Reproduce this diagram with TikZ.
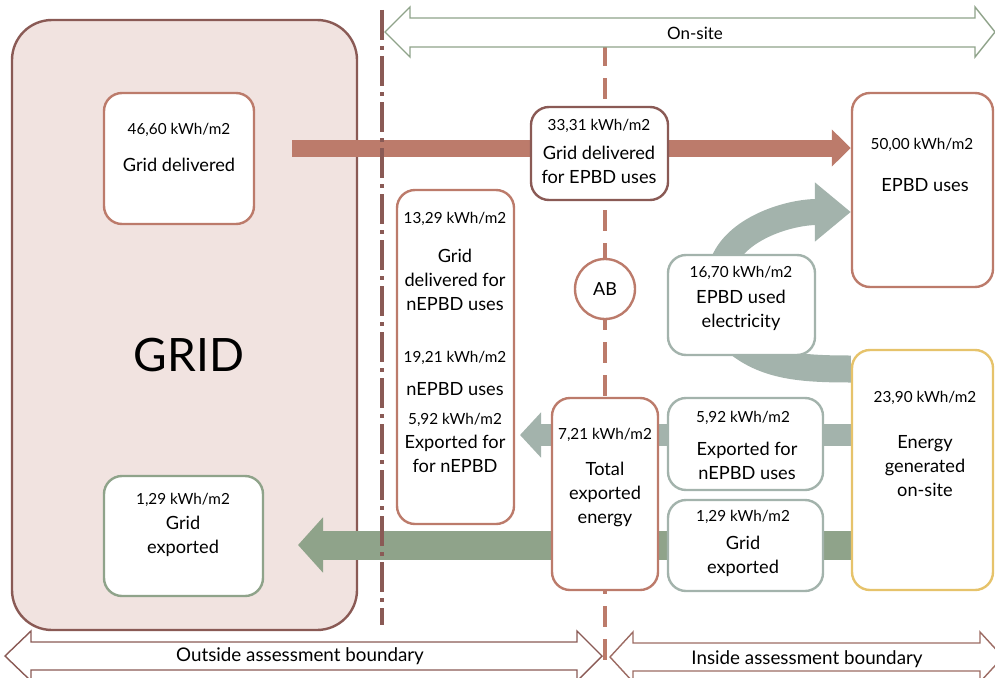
\documentclass[tikz,border=0pt]{standalone}
\usepackage{fontspec}
\setmainfont{Lato}
\usetikzlibrary{arrows.meta,backgrounds}
\definecolor{gridbrown}{HTML}{8A5A55}
\definecolor{salmon}{HTML}{BC7B6B}
\definecolor{gridfill}{HTML}{F1E3E0}
\definecolor{sage}{HTML}{A3B3AC}
\definecolor{moss}{HTML}{8FA38A}
\definecolor{ochre}{HTML}{E6C36B}
\definecolor{bndbrown}{HTML}{9C6B63}

\begin{document}
\begin{tikzpicture}[x=1pt,y=-1pt,
  box/.style n args={3}{rectangle,draw=#1,fill=white,line width=2.4pt,rounded corners=18pt,minimum width=#2,minimum height=#3},
  val/.style={font=\fontsize{15.3}{18}\selectfont,inner sep=0pt},
  lbl/.style={font=\fontsize{18.2}{24}\selectfont,align=center,inner sep=0pt},
  bnd/.style={fill=white,line width=1.4pt,line join=miter},
  redflow/.style={draw=salmon,line width=17pt,-{Triangle[length=19pt,width=36pt]}},
  sageflow/.style={draw=sage,line width=#1},
  mossflow/.style={draw=moss,line width=29pt,-{Triangle[length=25pt,width=54pt]}}]
\clip (0,0) rectangle (995,677);

% boxes
\node[box={salmon}{150pt}{131pt}] (griddel) at (179,158.5) {};
\node[box={moss}{159pt}{120pt}] (gridexp) at (183.5,536) {};
\node[box={gridbrown}{137pt}{93pt}] (epbdgrid) at (599.5,153.5) {};
\node[box={salmon}{141pt}{194pt}] (epbd) at (922.5,190) {};
\node[box={salmon}{117pt}{334pt}] (nepbd) at (455.5,357) {};
\node[circle,draw=salmon,fill=white,line width=2.4pt,minimum size=60pt,inner sep=0pt,font=\fontsize{18}{20}\selectfont] (ab) at (605,289) {AB};
\node[box={sage}{147pt}{100pt}] (used) at (741.5,305) {};
\node[box={ochre}{141pt}{240pt}] (gen) at (922.5,470) {};
\node[box={sage}{155pt}{92pt}] (expn) at (745.5,444) {};
\node[box={sage}{155pt}{91pt}] (expg) at (745.5,545.5) {};
\node[box={salmon}{106pt}{192pt}] (total) at (605,494) {};

% texts
\node[font=\fontsize{46}{50}\selectfont] (gridtxt) at (189,355) {GRID};
\node[val] (v1) at (179,130) {46,60 kWh/m2};
\node[lbl] (l1) at (179,165) {Grid delivered};
\node[val] (v2) at (183,500) {1,29 kWh/m2};
\node[lbl] (l2) at (183,536) {Grid\\exported};
\node[val] (v3) at (599,126) {33,31 kWh/m2};
\node[lbl] (l3) at (599,165) {Grid delivered\\for EPBD uses};
\node[val] (v4) at (922,145) {50,00 kWh/m2};
\node[lbl] (l4) at (925,185) {EPBD uses};
\node[val] (v5) at (455,219) {13,29 kWh/m2};
\node[lbl] (l5) at (455,280) {Grid\\delivered for\\nEPBD uses};
\node[val] (v6) at (455,358) {19,21 kWh/m2};
\node[lbl] (l6) at (455,389) {nEPBD uses};
\node[val] (v7) at (455,420) {5,92 kWh/m2};
\node[lbl] (l7) at (455,454) {Exported for\\for nEPBD};
\node[val] (v8) at (741,273) {16,70 kWh/m2};
\node[lbl] (l8) at (741,310) {EPBD used\\electricity};
\node[val] (v9) at (925,398) {23,90 kWh/m2};
\node[lbl] (l9) at (925,466) {Energy\\generated\\on-site};
\node[val] (v10) at (743,418) {5,92 kWh/m2};
\node[lbl] (l10) at (747,461) {Exported for\\nEPBD uses};
\node[val] (v11) at (743,517) {1,29 kWh/m2};
\node[lbl] (l11) at (743,556) {Grid\\exported};
\node[val] (v12) at (605,435) {7,21 kWh/m2};
\node[lbl] (l12) at (605,494) {Total\\exported\\energy};

% flows and boundaries behind the boxes
\begin{scope}[on background layer]
\node[box={gridbrown}{345pt}{610pt},fill=gridfill,rounded corners=40pt] (grid) at (184.5,325) {};
\coordinate (rs) at (292,148);
\coordinate (gx) at (520,435);
\coordinate (ex) at (298,545);
\draw[redflow] (rs) -- (rs -| epbd.west);
\draw[sageflow=22pt,-{Triangle[length=21pt,width=44pt]}] (gx -| gen.west) -- (gx);
\draw[mossflow] (ex -| gen.west) -- (ex);
\draw[sageflow=26pt,-{Triangle[length=36pt,width=57pt]}] ([xshift=-18pt,yshift=-8pt]used.north)
   .. controls +(15,-35) and +(-60,0) .. ([yshift=-22pt]epbd.west);
\draw[sageflow=27pt] ([yshift=101pt]gen.west)
   .. controls +(-50,0) and +(30,25) .. ([xshift=-6pt,yshift=15pt]used.south);
\draw[gridbrown,line width=3.2pt,dash pattern=on 30pt off 6pt on 4pt off 6pt] (382,10) -- (382,625);
\draw[salmon,line width=3.6pt,dash pattern=on 21pt off 12pt] (605,45) -- (605,664);
\end{scope}

% assessment boundaries
\draw[bnd,draw=moss] (385,32) -- (410,7) -- (410,18) -- (975,18) -- (975,7) -- (995,32)
   -- (975,57) -- (975,47) -- (410,47) -- (410,57) -- cycle;
\node[font=\fontsize{17}{20}\selectfont] (onsite) at (695,33) {On-site};
\draw[bnd,draw=gridbrown] (5,656) -- (31,631) -- (31,642) -- (577,642) -- (577,631) -- (602,656)
   -- (577,681) -- (577,670) -- (31,670) -- (31,681) -- cycle;
\node[font=\fontsize{18.8}{20}\selectfont] (outside) at (300,656) {Outside assessment boundary};
\draw[bnd,draw=bndbrown] (610,657) -- (633,632) -- (633,643) -- (980,643) -- (980,632) -- (1003,657)
   -- (980,682) -- (980,671) -- (633,671) -- (633,682) -- cycle;
\node[font=\fontsize{18.8}{20}\selectfont] (inside) at (807,659) {Inside assessment boundary};
\end{tikzpicture}
\end{document}
